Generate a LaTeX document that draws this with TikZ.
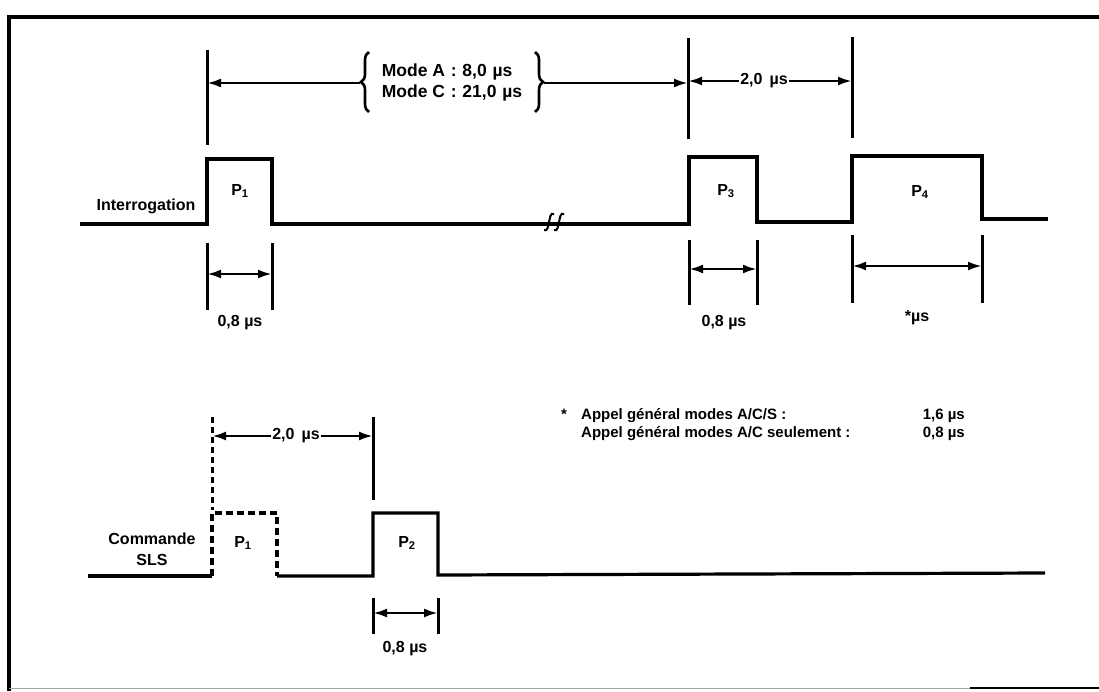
\documentclass[tikz,border=0pt]{standalone}
\usepackage{fontspec}
\setmainfont{Liberation Sans}
\usetikzlibrary{arrows.meta,decorations.pathreplacing}
\begin{document}
\begin{tikzpicture}[x=1pt,y=-1pt,
  sig/.style={line width=3.2pt, line join=miter},
  sigdash/.style={line width=3.2pt, dash pattern=on 7pt off 4pt},
  ext/.style={line width=3pt},
  extdash/.style={line width=3pt, dash pattern=on 6pt off 4pt},
  dim/.style={line width=2.6pt},
  tip/.style={-{Latex[length=14pt,width=9pt]}},
  both/.style={{Latex[length=14pt,width=9pt]}-{Latex[length=14pt,width=9pt]}},
  lbl/.style={font=\fontsize{16}{21}\selectfont\bfseries, inner sep=1pt},
  small/.style={font=\fontsize{15}{17}\selectfont\bfseries, inner sep=1pt},
  ]
\useasboundingbox (0,0) rectangle (1099,691);
% frame
\coordinate (fTR) at (1099,17);
\coordinate (fTL) at (9,17);
\coordinate (fBL) at (9,691);
\draw[line width=3.4pt] (fTR) -- (fTL) -- (fBL);
\coordinate (fB1) at (9,688);
\coordinate (fB2) at (970,688);
\coordinate (fB3) at (1099,688);
\draw[line width=0.8pt, black!35] (fB1) -- (fB2);
\draw[line width=2.8pt] (fB2) -- (fB3);

% ---------- Interrogation signal ----------
\coordinate (s0) at (80,224);
\coordinate (s1) at (207,224);
\coordinate (s2) at (207,159);
\coordinate (s3) at (272,159);
\coordinate (s4) at (272,224);
\coordinate (s5) at (689,222);
\coordinate (s6) at (689,157);
\coordinate (s7) at (757,157);
\coordinate (s8) at (757,222);
\coordinate (s9) at (852,222);
\coordinate (s10) at (852,156);
\coordinate (s11) at (982,156);
\coordinate (s12) at (982,219);
\coordinate (s13) at (1048,219);
\draw[sig] (s0) -- (s1) -- (s2) -- (s3) -- (s4) -- (s4 -| s5) -- (s5) -- (s6) -- (s7) -- (s8) -- (s9) -- (s10) -- (s11) -- (s12) -- (s13);
% break marks
\coordinate (bk1) at (549,222);
\coordinate (bk2) at (559,222);
\foreach \b in {bk1,bk2}{
  \draw[line width=2pt] ([shift={(-5pt,-8pt)}]\b) .. controls ([shift={(-1pt,-10pt)}]\b) and ([shift={(-1pt,-3pt)}]\b) .. (\b)
     .. controls ([shift={(1pt,3pt)}]\b) and ([shift={(1pt,10pt)}]\b) .. ([shift={(5pt,8pt)}]\b);
}

\node[lbl] (interr) at (146,206) {Interrogation};
\node[lbl] (lp1) at (240,191) {P\textsubscript{1}};
\node[lbl] (lp3) at (726,191) {P\textsubscript{3}};
\node[lbl] (lp4) at (920,192) {P\textsubscript{4}};

% top dimensions
\coordinate (e1a) at (207,50);  \coordinate (e1b) at (207,145);
\coordinate (e2a) at (688,38);  \coordinate (e2b) at (688,139);
\coordinate (e3a) at (852,37);  \coordinate (e3b) at (852,138);
\draw[ext] (e1a) -- (e1b);
\draw[ext] (e2a) -- (e2b);
\draw[ext] (e3a) -- (e3b);

\node[lbl, font=\fontsize{17.5}{21}\selectfont\bfseries, align=left] (mode) at (452,82) {Mode A\,\,:\,\,8,0\,\,µs\\Mode C\,\,:\,\,21,0\,\,µs};
\coordinate (brL1) at (369,112); \coordinate (brL2) at (369,52);
\coordinate (brR1) at (535,52);  \coordinate (brR2) at (535,112);
\draw[dim, decorate, decoration={brace, amplitude=8pt}] (brL1) -- (brL2);
\draw[dim, decorate, decoration={brace, amplitude=8pt}] (brR1) -- (brR2);
\coordinate (mL) at (360,83);
\coordinate (mR) at (544,83);
\draw[dim,tip] (mL) -- (mL -| e1a);
\draw[dim,tip] (mR) -- (mR -| e2a);

\node[lbl] (t20) at (764,81) {2,0\, µs};
\draw[dim,tip] (t20.west) -- (t20.west -| e2a);
\draw[dim,tip] (t20.east) -- (t20.east -| e3a);

% bottom dimensions of interrogation
\coordinate (d1a) at (207,243); \coordinate (d1b) at (207,310);
\coordinate (d2a) at (272,243); \coordinate (d2b) at (272,310);
\draw[ext] (d1a) -- (d1b);
\draw[ext] (d2a) -- (d2b);
\coordinate (d1m) at (207,274); \coordinate (d2m) at (272,274);
\draw[dim,both] (d1m) -- (d2m);
\node[lbl] (l08a) at (240,323) {0,8 µs};

\coordinate (d3a) at (689,240); \coordinate (d3b) at (689,305);
\coordinate (d4a) at (757,240); \coordinate (d4b) at (757,305);
\draw[ext] (d3a) -- (d3b);
\draw[ext] (d4a) -- (d4b);
\coordinate (d3m) at (689,269); \coordinate (d4m) at (757,269);
\draw[dim,both] (d3m) -- (d4m);
\node[lbl] (l08b) at (724,323) {0,8 µs};

\coordinate (d5a) at (852,235); \coordinate (d5b) at (852,303);
\coordinate (d6a) at (982,235); \coordinate (d6b) at (982,303);
\draw[ext] (d5a) -- (d5b);
\draw[ext] (d6a) -- (d6b);
\coordinate (d5m) at (852,266); \coordinate (d6m) at (982,266);
\draw[dim,both] (d5m) -- (d6m);
\node[lbl] (lstar) at (917,318) {*µs};

% footnote
\node[small] (ast) at (564,414) {*};
\node[small, anchor=west] (n1) at (580,416) {Appel général modes A/C/S :};
\node[small, anchor=east] (v1) at (966,416) {1,6 µs};
\node[small, anchor=west] (n2) at (580,434) {Appel général modes A/C seulement :};
\node[small, anchor=east] (v2) at (966,434) {0,8 µs};

% ---------- Commande SLS signal ----------
\coordinate (c0) at (88,576);
\coordinate (c1) at (212,576);
\coordinate (c2) at (212,513);
\coordinate (c3) at (277,513);
\coordinate (c4) at (277,576);
\coordinate (c5) at (373,576);
\coordinate (c6) at (373,513);
\coordinate (c7) at (438,513);
\coordinate (c8) at (438,575);
\coordinate (c9) at (1045,573);
\draw[sig] (c0) -- (c1);
\draw[sigdash] (c1) -- (c2) -- (c3) -- (c4);
\draw[sig] (c4) -- (c5) -- (c6) -- (c7) -- (c8) -- (c9);

\node[lbl, align=center] (cmd) at (152,549) {Commande\\SLS};
\node[lbl] (lq1) at (243,543) {P\textsubscript{1}};
\node[lbl] (lq2) at (407,543) {P\textsubscript{2}};

\coordinate (g1a) at (212,417); \coordinate (g1b) at (212,510);
\coordinate (g2a) at (373,417); \coordinate (g2b) at (373,500);
\draw[extdash] (g1a) -- (g1b);
\draw[ext] (g2a) -- (g2b);
\node[lbl] (b20) at (296,436) {2,0\, µs};
\draw[dim,tip] (b20.west) -- (b20.west -| g1a);
\draw[dim,tip] (b20.east) -- (b20.east -| g2a);

\coordinate (h1a) at (373,598); \coordinate (h1b) at (373,634);
\coordinate (h2a) at (438,598); \coordinate (h2b) at (438,634);
\draw[ext] (h1a) -- (h1b);
\draw[ext] (h2a) -- (h2b);
\coordinate (h1m) at (373,613); \coordinate (h2m) at (438,613);
\draw[dim,both] (h1m) -- (h2m);
\node[lbl] (l08c) at (405,649) {0,8 µs};
\end{tikzpicture}
\end{document}
